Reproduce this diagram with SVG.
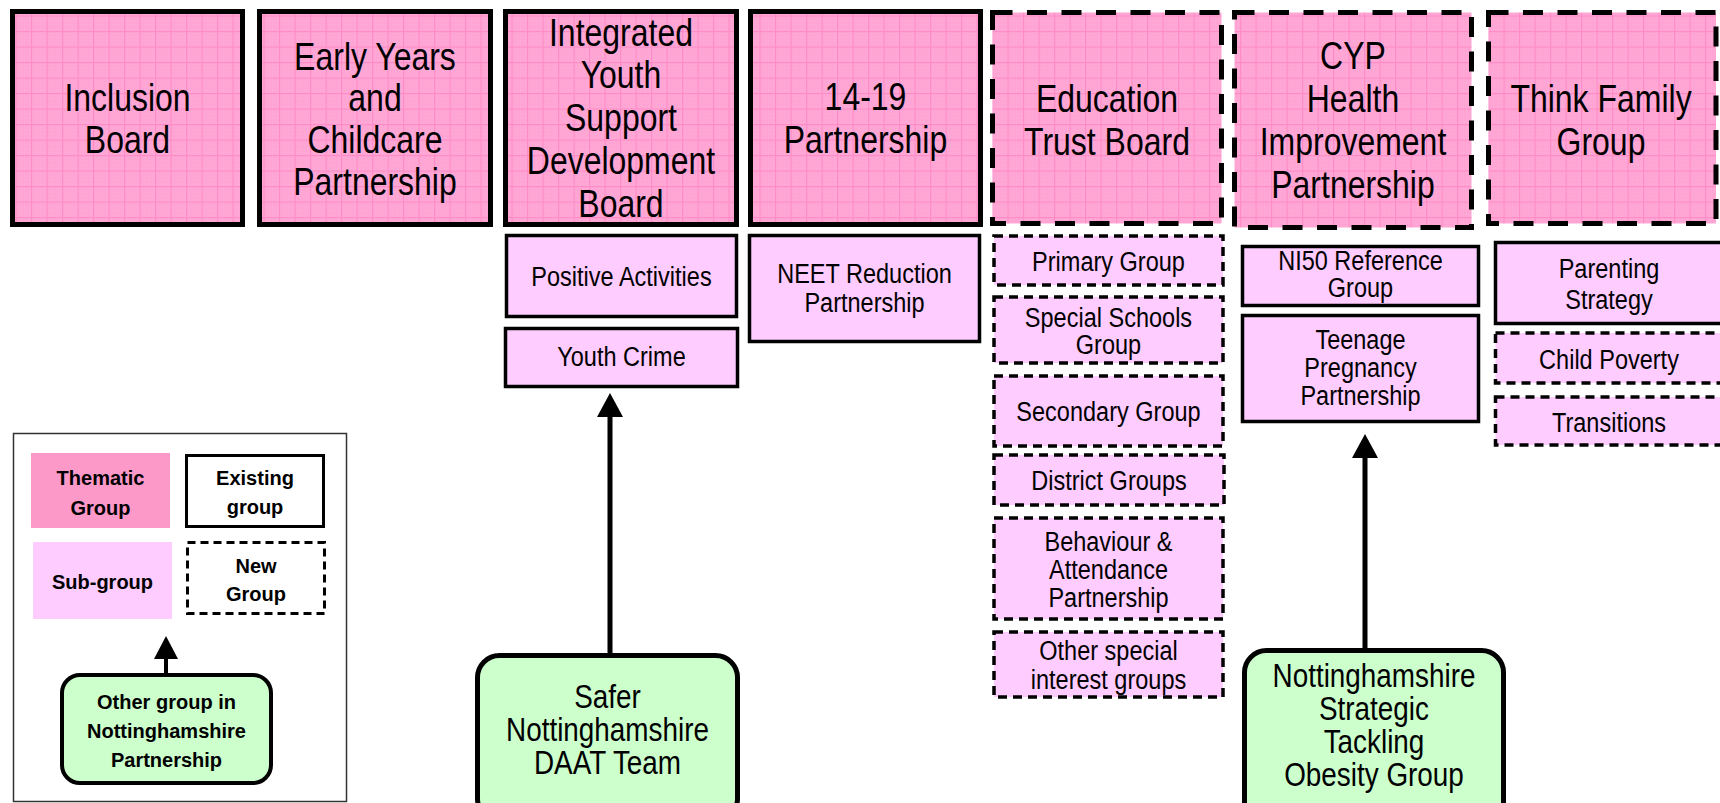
<svg xmlns="http://www.w3.org/2000/svg" width="1720" height="803" viewBox="0 0 1720 803">
  <style>
    .theme { fill: url(#grid); stroke: #000; stroke-width: 5; }
    .theme-new { fill: url(#grid); stroke: #000; stroke-width: 5; stroke-dasharray: 20 14.5; }
    .sub { fill: #ffccff; stroke: #000; stroke-width: 3.5; }
    .sub-new { fill: #ffccff; stroke: #000; stroke-width: 3.5; stroke-dasharray: 9 6; }
    .other { fill: #ccffcc; stroke: #000; stroke-width: 5; }
    /* condensed lettering: squeeze each line around its own centre */
    .t-big, .t-sub, .t-green { font-family: "Liberation Sans", Arial, sans-serif; fill: #000; text-anchor: middle;
      transform: scaleX(0.82); transform-box: fill-box; transform-origin: center; }
    .t-big { font-size: 39px; }
    .t-sub { font-size: 28px; transform: scaleX(0.84); }
    .t-green { font-size: 34px; }
    .t-key { font-family: "Liberation Sans", Arial, sans-serif; font-size: 20px; font-weight: bold; fill: #000; text-anchor: middle; }
    .link { fill: none; stroke: #000; stroke-width: 5; }
  </style>
  <defs>
    <!-- graph-paper fill used by the thematic boards -->
    <pattern id="grid" width="15.5" height="15.5" patternUnits="userSpaceOnUse">
      <rect width="15.5" height="15.5" fill="#ffa8d6"/>
      <path d="M3.875 0V15.5M7.75 0V15.5M11.625 0V15.5M0 3.875H15.5M0 7.75H15.5M0 11.625H15.5" stroke="#ff9ecf" stroke-width="0.6"/>
      <path d="M0.6 0V15.5M0 0.6H15.5" stroke="#ff8cc6" stroke-width="1.2"/>
    </pattern>
    <marker id="head" markerUnits="userSpaceOnUse" markerWidth="26" markerHeight="28" refX="0" refY="13" orient="auto">
      <path d="M0 0L24 13L0 26Z" fill="#000"/>
    </marker>
    <marker id="head-sm" markerUnits="userSpaceOnUse" markerWidth="25" markerHeight="26" refX="0" refY="12" orient="auto">
      <path d="M0 0L23 12L0 24Z" fill="#000"/>
    </marker>
  </defs>

  <rect width="1720" height="803" fill="#fff"/>

  <!-- thematic groups -->
  <g id="inclusion-board">
    <rect class="theme" x="12.5" y="11.5" width="230" height="213"/>
    <text class="t-big" x="127.5" y="111">Inclusion</text>
    <text class="t-big" x="127.5" y="153">Board</text>
  </g>
  <g id="early-years">
    <rect class="theme" x="259.5" y="11.5" width="231" height="213"/>
    <text class="t-big" x="375" y="70">Early Years</text>
    <text class="t-big" x="375" y="111">and</text>
    <text class="t-big" x="375" y="153">Childcare</text>
    <text class="t-big" x="375" y="195">Partnership</text>
  </g>
  <g id="integrated-youth">
    <rect class="theme" x="505.5" y="11.5" width="231" height="213"/>
    <text class="t-big" x="621" y="46">Integrated</text>
    <text class="t-big" x="621" y="88">Youth</text>
    <text class="t-big" x="621" y="131">Support</text>
    <text class="t-big" x="621" y="174">Development</text>
    <text class="t-big" x="621" y="217">Board</text>
  </g>
  <g id="partnership-14-19">
    <rect class="theme" x="750.5" y="11.5" width="230" height="213"/>
    <text class="t-big" x="865.5" y="110">14-19</text>
    <text class="t-big" x="865.5" y="153">Partnership</text>
  </g>
  <g id="education-trust">
    <rect class="theme-new" x="992.5" y="12.5" width="229" height="211"/>
    <text class="t-big" x="1107" y="112">Education</text>
    <text class="t-big" x="1107" y="155">Trust Board</text>
  </g>
  <g id="cyp-health">
    <rect class="theme-new" x="1234.5" y="12.5" width="237" height="215"/>
    <text class="t-big" x="1353" y="69">CYP</text>
    <text class="t-big" x="1353" y="112">Health</text>
    <text class="t-big" x="1353" y="155">Improvement</text>
    <text class="t-big" x="1353" y="198">Partnership</text>
  </g>
  <g id="think-family">
    <rect class="theme-new" x="1488.5" y="12.5" width="227.5" height="211"/>
    <text class="t-big" x="1601" y="112">Think Family</text>
    <text class="t-big" x="1601" y="155">Group</text>
  </g>

  <!-- sub-groups -->
  <g id="positive-activities">
    <rect class="sub" x="506.5" y="235.5" width="230" height="81"/>
    <text class="t-sub" x="621.5" y="286">Positive Activities</text>
  </g>
  <g id="youth-crime">
    <rect class="sub" x="505.5" y="328.5" width="232" height="58"/>
    <text class="t-sub" x="621.5" y="366">Youth Crime</text>
  </g>
  <g id="neet-reduction">
    <rect class="sub" x="749.5" y="235.5" width="230" height="106"/>
    <text class="t-sub" x="864.5" y="283">NEET Reduction</text>
    <text class="t-sub" x="864.5" y="312">Partnership</text>
  </g>
  <g id="primary-group">
    <rect class="sub-new" x="994" y="236" width="229" height="49"/>
    <text class="t-sub" x="1108.5" y="271">Primary Group</text>
  </g>
  <g id="special-schools">
    <rect class="sub-new" x="994" y="297" width="229" height="66"/>
    <text class="t-sub" x="1108.5" y="327">Special Schools</text>
    <text class="t-sub" x="1108.5" y="354">Group</text>
  </g>
  <g id="secondary-group">
    <rect class="sub-new" x="994" y="376" width="229" height="70"/>
    <text class="t-sub" x="1108.5" y="421">Secondary Group</text>
  </g>
  <g id="district-groups">
    <rect class="sub-new" x="994" y="455" width="230" height="50"/>
    <text class="t-sub" x="1109" y="490">District Groups</text>
  </g>
  <g id="behaviour-attendance">
    <rect class="sub-new" x="994" y="518" width="229" height="101"/>
    <text class="t-sub" x="1108.5" y="551">Behaviour &amp;</text>
    <text class="t-sub" x="1108.5" y="579">Attendance</text>
    <text class="t-sub" x="1108.5" y="607">Partnership</text>
  </g>
  <g id="special-interest">
    <rect class="sub-new" x="994" y="632" width="229" height="65"/>
    <text class="t-sub" x="1108.5" y="660">Other special</text>
    <text class="t-sub" x="1108.5" y="689">interest groups</text>
  </g>
  <g id="ni50-reference">
    <rect class="sub" x="1242.5" y="246.5" width="236" height="59"/>
    <text class="t-sub" x="1360.5" y="270">NI50 Reference</text>
    <text class="t-sub" x="1360.5" y="297">Group</text>
  </g>
  <g id="teenage-pregnancy">
    <rect class="sub" x="1242.5" y="315.5" width="236" height="106"/>
    <text class="t-sub" x="1360.5" y="349">Teenage</text>
    <text class="t-sub" x="1360.5" y="377">Pregnancy</text>
    <text class="t-sub" x="1360.5" y="405">Partnership</text>
  </g>
  <g id="parenting-strategy">
    <rect class="sub" x="1495.5" y="242.5" width="240" height="81"/>
    <text class="t-sub" x="1609" y="278">Parenting</text>
    <text class="t-sub" x="1609" y="309">Strategy</text>
  </g>
  <g id="child-poverty">
    <rect class="sub-new" x="1495.5" y="333" width="240" height="50"/>
    <text class="t-sub" x="1609" y="369">Child Poverty</text>
  </g>
  <g id="transitions">
    <rect class="sub-new" x="1495.5" y="397" width="240" height="48"/>
    <text class="t-sub" x="1609" y="432">Transitions</text>
  </g>

  <!-- partnership groups outside the board structure -->
  <g id="safer-nottinghamshire">
    <rect class="other" x="477.5" y="655.5" width="260" height="165" rx="22"/>
    <text class="t-green" x="607.5" y="708">Safer</text>
    <text class="t-green" x="607.5" y="741">Nottinghamshire</text>
    <text class="t-green" x="607.5" y="774">DAAT Team</text>
  </g>
  <g id="tackling-obesity">
    <rect class="other" x="1244.5" y="650.5" width="259" height="175" rx="22"/>
    <text class="t-green" x="1374" y="687">Nottinghamshire</text>
    <text class="t-green" x="1374" y="720">Strategic</text>
    <text class="t-green" x="1374" y="753">Tackling</text>
    <text class="t-green" x="1374" y="786">Obesity Group</text>
  </g>

  <!-- connectors -->
  <g id="connectors">
    <path class="link" d="M610 655V417" marker-end="url(#head)"/>
    <path class="link" d="M1365 648V458" marker-end="url(#head)"/>
  </g>

  <!-- key -->
  <g id="key">
    <rect x="13.5" y="433.5" width="333" height="368" fill="#fff" stroke="#333" stroke-width="1.5"/>
    <g id="key-thematic">
      <rect x="31" y="453" width="139" height="75" fill="#fd99c9"/>
      <text class="t-key" x="100.5" y="485">Thematic</text>
      <text class="t-key" x="100.5" y="515">Group</text>
    </g>
    <g id="key-existing">
      <rect x="186.5" y="455.5" width="137" height="71" fill="#fff" stroke="#000" stroke-width="3"/>
      <text class="t-key" x="255" y="485">Existing</text>
      <text class="t-key" x="255" y="514">group</text>
    </g>
    <g id="key-subgroup">
      <rect x="33" y="542" width="139" height="77" fill="#ffccff"/>
      <text class="t-key" x="102.5" y="589">Sub-group</text>
    </g>
    <g id="key-new">
      <rect x="187.5" y="542.5" width="137" height="71" fill="#fff" stroke="#000" stroke-width="3" stroke-dasharray="8 5"/>
      <text class="t-key" x="256" y="573">New</text>
      <text class="t-key" x="256" y="601">Group</text>
    </g>
    <g id="key-other">
      <rect x="62" y="675" width="209" height="108" rx="18" fill="#ccffcc" stroke="#000" stroke-width="4"/>
      <text class="t-key" x="166.5" y="709">Other group in</text>
      <text class="t-key" x="166.5" y="738">Nottinghamshire</text>
      <text class="t-key" x="166.5" y="767">Partnership</text>
    </g>
    <path d="M166 673V659" fill="none" stroke="#000" stroke-width="4" marker-end="url(#head-sm)"/>
  </g>
</svg>
